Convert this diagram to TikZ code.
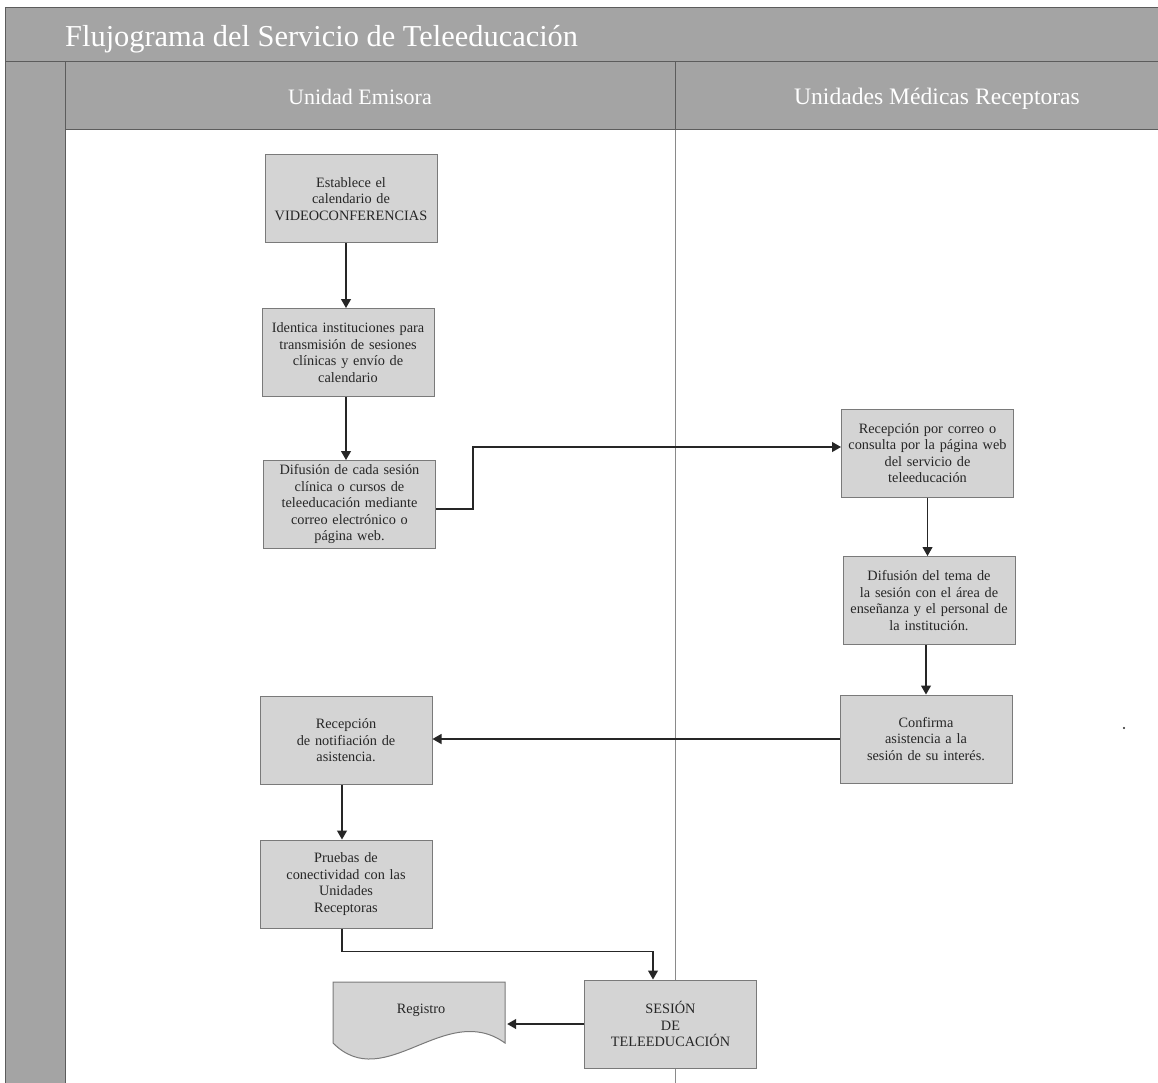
\documentclass[tikz,border=0pt]{standalone}
\usepackage{fontspec}
\setmainfont{Liberation Serif}
\usetikzlibrary{arrows.meta,calc}
\definecolor{bandgray}{HTML}{A4A4A4}
\definecolor{boxgray}{HTML}{D4D4D4}
\definecolor{boxline}{HTML}{7A7A7A}
\definecolor{frameline}{HTML}{5C5C5C}
\definecolor{laneline}{HTML}{8A8A8A}
\definecolor{inkgray}{HTML}{262626}
\begin{document}
\begin{tikzpicture}[x=1pt,y=-1pt,
  stepbox/.style={draw=boxline, fill=boxgray, line width=1pt,
    minimum width=172pt, minimum height=88pt, inner sep=0pt,
    text width=168pt, align=center, text=inkgray,
    font=\fontsize{14.3}{16.5}\selectfont},
  flow/.style={draw=inkgray, line width=1.1pt,
    -{Triangle[length=9pt,width=10pt]}},
  lanetitle/.style={text=white, inner sep=0pt},
  frame/.style={draw=frameline, line width=1pt}]

% page
\useasboundingbox (0,0) rectangle (1158,1083);
\fill[white] (0,0) rectangle (1158,1083);

% pool bands
\fill[bandgray] (5,8) rectangle (1158,62);
\fill[bandgray] (5,62) rectangle (65,1083);
\fill[bandgray] (65,62) rectangle (1158,130);

% pool frame and lane separators
\draw[frame] (5,1083) -- (5,8) -- (1158,8);
\draw[frame] (5,62) -- (1158,62);
\draw[frame] (65,62) -- (65,1083);
\draw[frame] (65,130) -- (1158,130);
\draw[frame] (675,62) -- (675,130);
\draw[laneline, line width=1pt] (675,130) -- (675,1083);

% titles
\node[lanetitle, anchor=base west, font=\fontsize{30.4}{34}\selectfont] (title) at (65,47) {Flujograma del Servicio de Teleeducación};
\node[lanetitle, anchor=base, font=\fontsize{22}{25}\selectfont] (laneA) at (360,104.5) {Unidad Emisora};
\node[lanetitle, anchor=base, font=\fontsize{23.6}{26}\selectfont] (laneB) at (937,104.5) {Unidades Médicas Receptoras};

% process steps
\node[stepbox] (b1) at (351,199) {Establece el\\calendario de\\VIDEOCONFERENCIAS};
\node[stepbox] (b2) at (348,352.5) {Identica instituciones para\\transmisión de sesiones\\clínicas y envío de\\calendario};
\node[stepbox] (b3) at (349.5,504.5) {Difusión de cada sesión\\clínica o cursos de\\teleeducación mediante\\correo electrónico o\\página web.};
\node[stepbox] (b4) at (927.5,453) {Recepción por correo o\\consulta por la página web\\del servicio de\\teleeducación};
\node[stepbox] (b5) at (929,600.5) {Difusión del tema de\\la sesión con el área de\\enseñanza y el personal de\\la institución.};
\node[stepbox] (b6) at (926,739) {Confirma\\asistencia a la\\sesión de su interés.};
\node[stepbox] (b7) at (346,740.5) {Recepción\\de notifiación de\\asistencia.};
\node[stepbox] (b8) at (346,884) {Pruebas de\\conectividad con las\\Unidades\\Receptoras};
\node[stepbox] (b9) at (670.5,1024) {SESIÓN\\DE\\TELEEDUCACIÓN};

% document symbol
\filldraw[fill=boxgray, draw=boxline, line width=1pt]
  (333,982) -- (505,982) -- (505,1043)
  .. controls (445,1000) and (385,1095) .. (333,1043) -- cycle;
\node[minimum width=172pt, minimum height=61pt, inner sep=0pt, text=inkgray,
  font=\fontsize{14.3}{16.5}\selectfont] (reg) at (421,1010) {Registro};

% connectors
\draw[flow] ([xshift=-5pt]b1.south) -- ([xshift=-5pt]b1.south |- b2.north);
\draw[flow] ([xshift=-2pt]b2.south) -- ([xshift=-2pt]b2.south |- b3.north);
\draw[flow] ([yshift=-4.5pt]b3.east) -- ++(37,0) |- ([yshift=6pt]b4.west);
\draw[flow] (b4.south) -- (b4.south |- b5.north);
\draw[flow] (b6.north |- b5.south) -- (b6.north);
\draw[flow] (b6.west) -- (b6.west -| b7.east);
\draw[flow] ([xshift=-4pt]b7.south) -- ([xshift=-4pt]b7.south |- b8.north);
\draw[flow] ([xshift=-4pt]b8.south) -- ++(0,23) -| ([xshift=-17.5pt]b9.north);
\draw[flow] (b9.west) -- (b9.west -| reg.east);

% stray mark
\fill[inkgray] (1124,728) circle (1.2pt);
\end{tikzpicture}
\end{document}
